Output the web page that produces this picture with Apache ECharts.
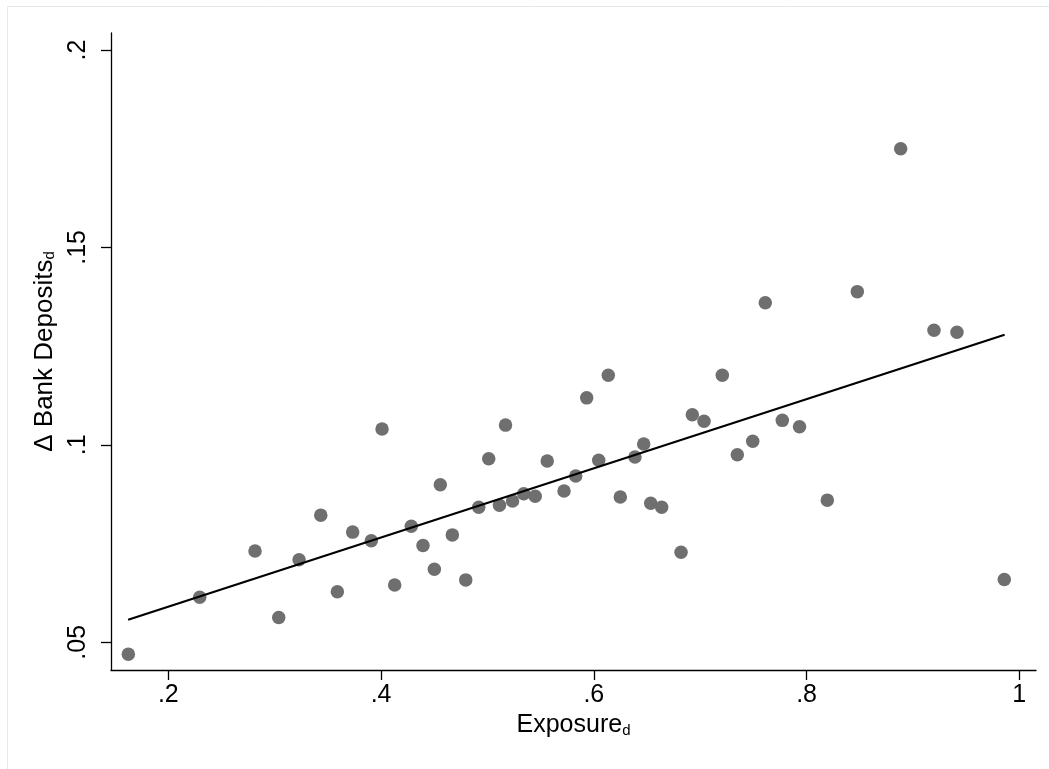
<!DOCTYPE html>
<html>
<head>
<meta charset="utf-8">
<script src="https://cdn.jsdelivr.net/npm/echarts@6/dist/echarts.min.js"></script>
<style>
html,body{margin:0;padding:0;background:#fff;}
#chart{width:1049px;height:769px;}
</style>
</head>
<body>
<div id="chart"></div>
<script>
// Exposure_d (x) and Δ Bank Deposits_d (y), one point per unit d
const exposure = [0.1624,0.2295,0.2815,0.3038,0.3229,0.3433,0.3589,0.3733,0.3908,0.4009,
  0.4128,0.4284,0.4394,0.4501,0.4557,0.4670,0.4796,0.4918,0.5012,0.5113,
  0.5170,0.5236,0.5341,0.5449,0.5562,0.5720,0.5830,0.5933,0.6046,0.6136,
  0.6249,0.6387,0.6469,0.6535,0.6638,0.6820,0.6926,0.7036,0.7208,0.7349,
  0.7494,0.7612,0.7772,0.7934,0.8195,0.8477,0.8885,0.9198,0.9414,0.9859];
const deposits = [0.0470,0.0614,0.0731,0.0563,0.0709,0.0822,0.0628,0.0779,0.0757,0.1040,
  0.0645,0.0794,0.0745,0.0685,0.0899,0.0772,0.0658,0.0842,0.0965,0.0847,
  0.1050,0.0858,0.0876,0.0870,0.0959,0.0883,0.0921,0.1119,0.0961,0.1176,
  0.0868,0.0969,0.1002,0.0852,0.0842,0.0728,0.1076,0.1060,0.1176,0.0975,
  0.1009,0.1360,0.1062,0.1046,0.0860,0.1388,0.1750,0.1290,0.1285,0.0659];
// fitted line endpoints
const fitX = [0.1622, 0.9862];
const fitY = [0.0557, 0.1279];
// tick labels
const xTicks = [0.2, 0.4, 0.6, 0.8, 1];
const yTicks = [0.05, 0.1, 0.15, 0.2];

const fmt = v => String(+v.toFixed(4)).replace(/^0\./, '.');
const FONT = '"Liberation Sans", Arial, Helvetica, sans-serif';

const chart = echarts.init(document.getElementById('chart'));
chart.setOption({
  backgroundColor: '#ffffff',
  animation: false,
  graphic: [{
    type: 'rect', silent: true, z: -10,
    shape: { x: 7.5, y: 6.5, width: 1200, height: 1000 },
    style: { fill: null, stroke: '#e4eaea', lineWidth: 1 }
  }],
  grid: { left: 111, right: 13, top: 33, bottom: 99, containLabel: false },
  xAxis: {
    type: 'value', min: 0.1461, max: 1.0157,
    name: '{a|Exposure}{s|d}',
    nameLocation: 'middle', nameGap: 39,
    nameTextStyle: {
      rich: {
        a: { fontFamily: FONT, fontSize: 25, color: '#000' },
        s: { fontFamily: FONT, fontSize: 15, color: '#000', padding: [10, 0, 0, 0] }
      }
    },
    axisLine: { show: true, onZero: false, lineStyle: { color: '#000', width: 1.3 } },
    axisTick: { show: true, length: 10, customValues: xTicks, lineStyle: { color: '#000', width: 1.3 } },
    axisLabel: { customValues: xTicks, formatter: fmt, fontFamily: FONT, fontSize: 25, color: '#000', margin: 13 },
    splitLine: { show: false }
  },
  yAxis: {
    type: 'value', min: 0.04298, max: 0.2043,
    name: '{a|Δ Bank Deposits}{s|d}',
    nameLocation: 'middle', nameGap: 52, nameRotate: 90,
    nameTextStyle: {
      rich: {
        a: { fontFamily: FONT, fontSize: 26, color: '#000' },
        s: { fontFamily: FONT, fontSize: 15, color: '#000', padding: [10, 0, 0, 0] }
      }
    },
    axisLine: { show: true, onZero: false, lineStyle: { color: '#000', width: 1.3 } },
    axisTick: { show: true, length: 10, customValues: yTicks, lineStyle: { color: '#000', width: 1.3 } },
    axisLabel: { customValues: yTicks, formatter: fmt, rotate: 90, fontFamily: FONT, fontSize: 25, color: '#000', margin: 20 },
    splitLine: { show: false }
  },
  series: [
    {
      type: 'scatter',
      data: exposure.map((x, i) => [x, deposits[i]]),
      symbol: 'circle', symbolSize: 13.5,
      itemStyle: { color: '#6f6f6f', opacity: 1 },
      z: 2
    },
    {
      type: 'line',
      data: fitX.map((x, i) => [x, fitY[i]]),
      showSymbol: false, symbol: 'none',
      lineStyle: { color: '#000', width: 2.2 },
      z: 3
    }
  ]
});
</script>
</body>
</html>
